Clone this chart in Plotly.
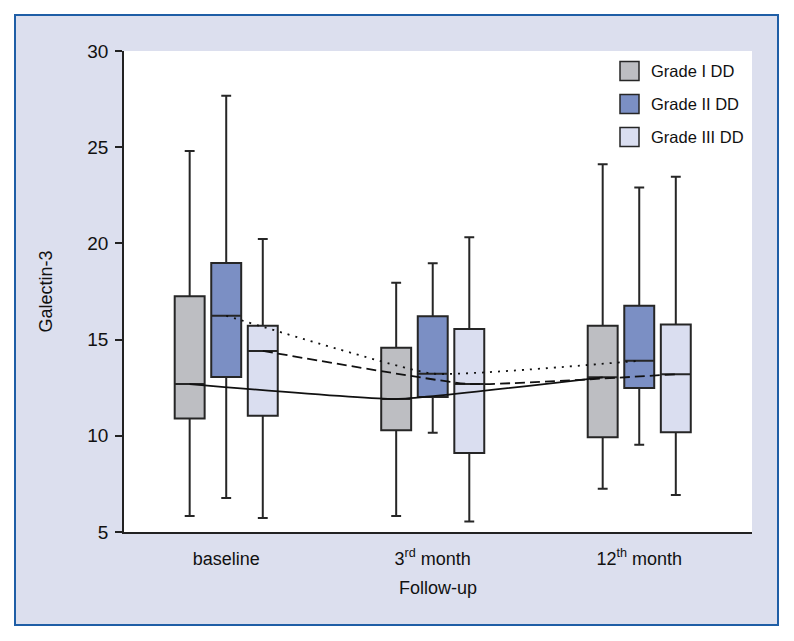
import plotly.graph_objects as go

# ---- data ----
categories = ["baseline", "3<sup>rd</sup> month", "12<sup>th</sup> month"]
series_names = ["Grade I DD", "Grade II DD", "Grade III DD"]

g1_low = [5.83, 5.83, 7.25]
g1_q1 = [10.90, 10.29, 9.92]
g1_med = [12.69, 11.91, 13.04]
g1_q3 = [17.25, 14.58, 15.72]
g1_high = [24.80, 17.96, 24.12]

g2_low = [6.77, 10.16, 9.54]
g2_q1 = [13.06, 12.02, 12.48]
g2_med = [16.24, 13.23, 13.90]
g2_q3 = [18.98, 16.21, 16.76]
g2_high = [27.68, 18.97, 22.90]

g3_low = [5.73, 5.55, 6.92]
g3_q1 = [11.04, 9.11, 10.18]
g3_med = [14.41, 12.69, 13.20]
g3_q3 = [15.72, 15.55, 15.79]
g3_high = [20.23, 20.32, 23.47]

y_ticks = [5, 10, 15, 20, 25, 30]

# ---- styling ----
FONT = "Liberation Sans Narrow, Arial Narrow, Liberation Sans, Arial, sans-serif"
fills = ["#bdbec2", "#7b8fc4", "#dadef0"]
line_dash = ["solid", "2px,6px", "10px,5px"]
offsets = [-0.177, 0.0, 0.177]
box_w = 0.145
edge = "#262626"

stats = [
    (g1_low, g1_q1, g1_med, g1_q3, g1_high),
    (g2_low, g2_q1, g2_med, g2_q3, g2_high),
    (g3_low, g3_q1, g3_med, g3_q3, g3_high),
]

fig = go.Figure()
for i, (lo, q1, md, q3, hi) in enumerate(stats):
    xs = [k + offsets[i] for k in range(len(categories))]
    fig.add_trace(go.Box(
        x=xs, lowerfence=lo, q1=q1, median=md, q3=q3, upperfence=hi,
        width=box_w, whiskerwidth=0.33, fillcolor=fills[i],
        line=dict(color=edge, width=2), name=series_names[i],
        showlegend=False, hoverinfo="skip", boxpoints=False,
    ))

for i, (lo, q1, md, q3, hi) in enumerate(stats):
    xs = [k + offsets[i] for k in range(len(categories))]
    fig.add_trace(go.Scatter(
        x=xs, y=md, mode="lines",
        line=dict(color="#111111", width=1.8, dash=line_dash[i], shape="spline", smoothing=0.35),
        showlegend=False, hoverinfo="skip",
    ))

# page body adds an 8px offset; screen coords below are compensated
OFF = 8
W, H = 794, 641
L, R, T, B = 124 - OFF, 50, 51 - OFF, 117
pw, ph = W - L - R, H - T - B

def px_x(p):
    return (p - OFF - L) / pw

def px_y(p):
    return (H - B - (p - OFF)) / ph

shapes = [
    dict(type="rect", xref="paper", yref="paper", layer="below",
         x0=px_x(15), x1=px_x(778), y0=px_y(625), y1=px_y(15),
         fillcolor="#dcdfee", line=dict(color="#1f5ea6", width=2)),
    dict(type="rect", xref="paper", yref="paper", layer="below",
         x0=0, x1=1, y0=0, y1=1, fillcolor="white", line=dict(width=0)),
]
annotations = []
# legend built from series names / fills
for i, nm in enumerate(series_names):
    cy = 71 + i * 33
    shapes.append(dict(type="rect", xref="paper", yref="paper",
                       x0=px_x(620), x1=px_x(639), y0=px_y(cy + 9.5), y1=px_y(cy - 9.5),
                       fillcolor=fills[i], line=dict(color=edge, width=1.5)))
    annotations.append(dict(xref="paper", yref="paper", x=px_x(649), y=px_y(cy),
                            text=nm, showarrow=False, xanchor="left", yanchor="middle",
                            font=dict(family=FONT, size=16.5, color="#111111")))

fig.update_layout(
    width=W, height=H,
    margin=dict(l=L, r=R, t=T, b=B, pad=0),
    paper_bgcolor="white", plot_bgcolor="white",
    font=dict(family=FONT, size=18, color="#111111"),
    shapes=shapes, annotations=annotations,
    showlegend=False,
    xaxis=dict(
        range=[-0.495, 2.546], tickvals=list(range(len(categories))), ticktext=categories,
        showline=True, linecolor="#222222", linewidth=2, showgrid=False, zeroline=False,
        ticks="", ticklabelstandoff=9, tickfont=dict(size=18),
        title=dict(text="Follow-up", font=dict(size=18), standoff=14),
    ),
    yaxis=dict(
        range=[5, 30], tickvals=y_ticks, showline=True, linecolor="#222222", linewidth=1.5,
        showgrid=False, zeroline=False, ticks="outside", ticklen=7, tickwidth=1.5,
        tickcolor="#222222", tickfont=dict(size=19), ticklabelstandoff=3,
        title=dict(text="Galectin-3", font=dict(size=18), standoff=30),
    ),
)

fig.write_html("out.html")
